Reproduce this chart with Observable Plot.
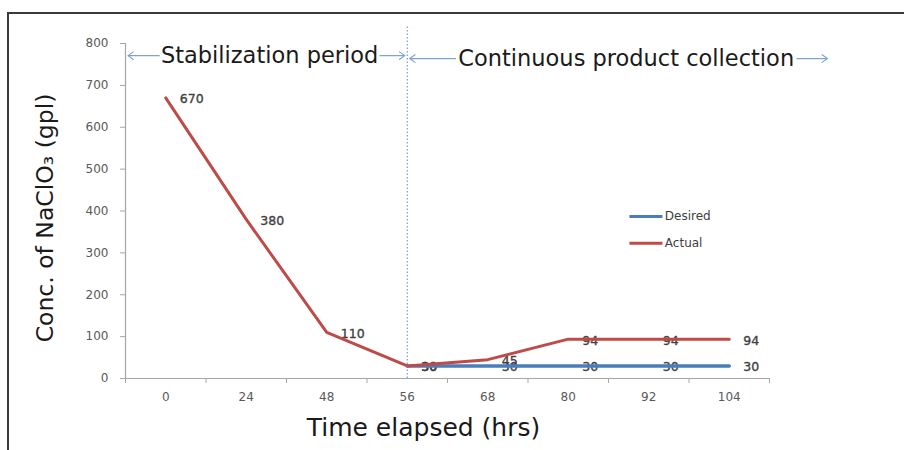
<!DOCTYPE html>
<html>
<head>
<meta charset="utf-8">
<script src="https://cdn.jsdelivr.net/npm/d3@7"></script>
<script src="https://cdn.jsdelivr.net/npm/@observablehq/plot@0.6"></script>
<style>
  html, body { margin: 0; padding: 0; background: #fff; }
  #wrap { position: relative; width: 904px; height: 450px; overflow: hidden; }
  #wrap svg { position: absolute; left: 0; top: 0; }
  #frame { position: absolute; left: 7px; top: 12px; width: 1000px; height: 1000px;
           border-left: 2px solid #3a3a3a; border-top: 2px solid #3a3a3a; pointer-events: none; }
</style>
</head>
<body>
<div id="wrap"><div id="frame"></div></div>
<script>
// Elapsed time categories (hrs) and NaClO3 concentration (gpl)
const hours = [0, 24, 48, 56, 68, 80, 92, 104];
const actual = [670, 380, 110, 30, 45, 94, 94, 94];
const desired = [null, null, null, 30, 30, 30, 30, 30];
const yTicks = [0, 100, 200, 300, 400, 500, 600, 700, 800];
const seriesNames = ["Desired", "Actual"];
const seriesColors = ["#4a7ebb", "#be4b48"];
const phaseNames = ["Stabilization period", "Continuous product collection"];

// rows keyed by category index so the categories are evenly spaced
const actualRows = hours.map((h, i) => ({i, hour: h, value: actual[i]}));
const desiredRows = hours.map((h, i) => ({i, hour: h, value: desired[i]})).filter(d => d.value != null);

const switchIndex = hours.indexOf(56);   // start of product collection
const n = hours.length;

// phase arrows (index units on x, value units on y); half = half the caption width
const phases = [
  {name: phaseNames[0], x1: -0.47, x2: switchIndex - 0.03, mid: 1.29, half: 1.37, y: 771},
  {name: phaseNames[1], x1: switchIndex + 0.03, x2: n + 0.22, mid: 5.72, half: 2.12, y: 764}
];
const arrowHalves = phases.flatMap(p => [
  {x1: p.mid - p.half, x2: p.x1, y: p.y},
  {x1: p.mid + p.half, x2: p.x2, y: p.y}
]);

const legendRows = seriesNames.map((s, k) => ({name: s, color: seriesColors[k], y: 387 - 64 * k}));

const font = "'DejaVu Sans', sans-serif";
const tickFill = "#595959";
const axisStroke = "#a6a6a6";
const labelFill = "#404040";

const valueLabel = rows => Plot.text(rows, {
  x: "i", y: "value", text: d => String(d.value), dx: 14, dy: 1.5,
  textAnchor: "start", fontSize: 12.5, fill: labelFill, stroke: labelFill, strokeWidth: 0.35
});

const chart = Plot.plot({
  width: 904,
  height: 450,
  marginLeft: 125,
  marginRight: 135,
  marginTop: 43,
  marginBottom: 72,
  style: {fontFamily: font, background: "transparent"},
  x: {type: "linear", domain: [-0.5, n - 0.5], axis: null},
  y: {domain: [0, 800], axis: null},
  marks: [
    // y axis: line, ticks, labels
    Plot.ruleX([-0.5], {stroke: axisStroke, strokeWidth: 1.2}),
    Plot.axisY({ticks: yTicks, tickSize: 5, tickPadding: 12, fontSize: 12,
                stroke: axisStroke, fill: tickFill, label: null}),
    // x axis: line, boundary ticks, centred category labels
    Plot.ruleY([0], {stroke: axisStroke, strokeWidth: 1.2}),
    Plot.axisX({ticks: d3.range(-0.5, n, 1), tickSize: 5, tickFormat: () => "",
                stroke: axisStroke, label: null}),
    Plot.axisX({ticks: d3.range(0, n), tickSize: 0, tickPadding: 14, fontSize: 12,
                tickFormat: i => hours[i], fill: tickFill, label: null}),

    // boundary between the two phases
    Plot.ruleX([switchIndex], {y1: 0, y2: 842, stroke: "#5b8bc6", strokeWidth: 1, strokeDasharray: "1.5,2"}),

    // phase arrows with their captions
    Plot.arrow(arrowHalves, {x1: "x1", x2: "x2", y1: "y", y2: "y", stroke: "#7fa4cf",
                             strokeWidth: 1.1, headLength: 9, headAngle: 70, bend: 0}),
    Plot.text(phases, {x: "mid", y: "y", text: "name", fontSize: 22.5, fill: "#1a1a1a"}),

    // value labels sit under the lines
    valueLabel(desiredRows),
    valueLabel(actualRows),

    // series lines
    Plot.line(desiredRows, {x: "i", y: "value", stroke: seriesColors[0], strokeWidth: 3.5}),
    Plot.line(actualRows, {x: "i", y: "value", stroke: seriesColors[1], strokeWidth: 3}),

    // legend
    Plot.link(legendRows, {x1: 5.76, x2: 6.17, y1: "y", y2: "y", stroke: "color", strokeWidth: 3}),
    Plot.text(legendRows, {x: 6.2, y: "y", text: "name", textAnchor: "start", fontSize: 12,
                           fill: "#404040"}),

    // axis titles
    Plot.text(["Conc. of NaClO₃ (gpl)"], {frameAnchor: "left", textAnchor: "middle", dx: -80, dy: 7,
                                          rotate: -90, fontSize: 23.5, fill: "#1a1a1a"}),
    Plot.text(["Time elapsed (hrs)"], {frameAnchor: "bottom", textAnchor: "middle", dx: -24, dy: 57,
                                       fontSize: 25, fill: "#1a1a1a"})
  ]
});

document.getElementById("wrap").prepend(chart);
</script>
</body>
</html>
